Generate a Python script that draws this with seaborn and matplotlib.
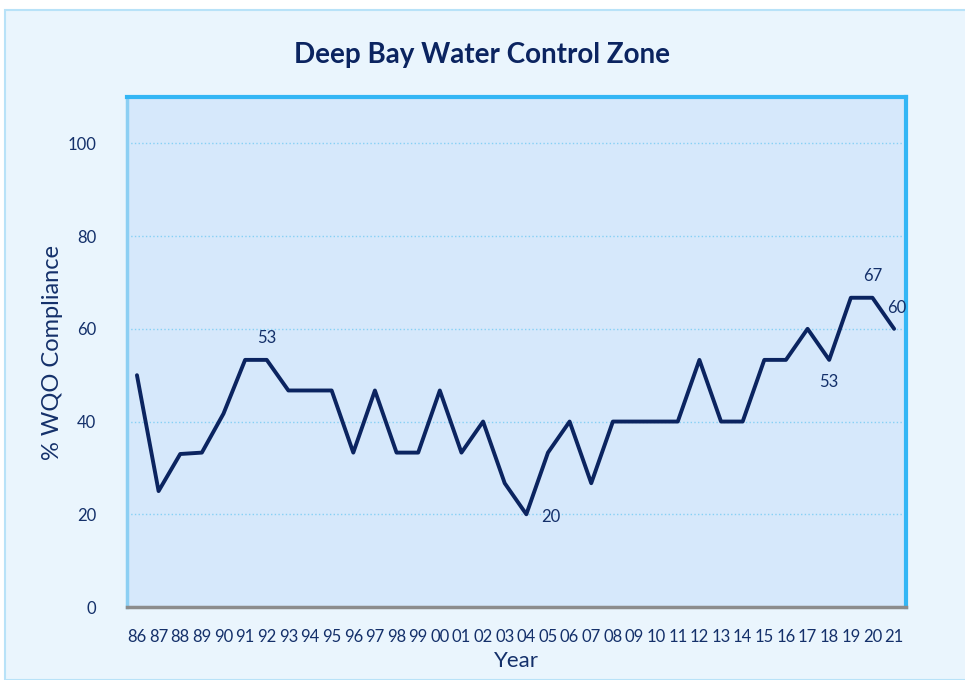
import numpy as np
import pandas as pd
import matplotlib
matplotlib.use('Agg')
import matplotlib.pyplot as plt
from matplotlib.patches import Rectangle
import seaborn as sns

# dados
anos = ['86', '87', '88', '89', '90', '91', '92', '93', '94', '95', '96', '97',
        '98', '99', '00', '01', '02', '03', '04', '05', '06', '07', '08', '09',
        '10', '11', '12', '13', '14', '15', '16', '17', '18', '19', '20', '21']
conformidade = [50, 25, 33, 33.3, 41.7, 53.3, 53.3, 46.7, 46.7, 46.7, 33.3, 46.7,
                33.3, 33.3, 46.7, 33.3, 40, 26.7, 20, 33.3, 40, 26.7, 40, 40,
                40, 40, 53.3, 40, 40, 53.3, 53.3, 60, 53.3, 66.7, 66.7, 60]
rotulos = {'92': '53', '04': '20', '18': '53', '20': '67', '21': '60'}

df = pd.DataFrame({'pos': np.arange(len(anos)), 'valor': conformidade})

sns.set_style('white')
plt.rcParams['font.family'] = ['Lato', 'DejaVu Sans']

azul_escuro = '#0B2460'
texto = '#14306A'

fig = plt.figure(figsize=(9.65, 6.8), dpi=100)
fig.patch.set_facecolor('white')
fundo = Rectangle((5 / 965, 0), 1, 1 - 10 / 680, transform=fig.transFigure,
                  facecolor='#EAF5FD', edgecolor='#B8E2F8', linewidth=1.5, zorder=-10)
fig.patches.append(fundo)

ax = fig.add_axes([127 / 965, 1 - 607 / 680, 779 / 965, 510 / 680])
ax.set_facecolor('#D6E8FB')

sns.lineplot(data=df, x='pos', y='valor', color=azul_escuro, linewidth=2.8, ax=ax)

ax.set_xlim(-0.46, 35.55)
ax.set_ylim(0, 110)
ax.set_yticks([0, 20, 40, 60, 80, 100])
ax.set_xticks(df['pos'])
ax.set_xticklabels(anos)
ax.tick_params(axis='x', direction='in', length=4, width=1, color='#8C8C8C',
               labelsize=12, labelcolor=texto, pad=16)
ax.tick_params(axis='y', length=0, labelsize=12, labelcolor=texto, pad=22)
ax.grid(axis='y', color='#86D0F5', linestyle=':', linewidth=1)
ax.grid(axis='x', visible=False)

for lado, cor, lw in [('top', '#33B6F5', 3), ('right', '#33B6F5', 3),
                      ('left', '#8CCFF3', 2.5), ('bottom', '#8C8C8C', 2.5)]:
    ax.spines[lado].set_visible(True)
    ax.spines[lado].set_color(cor)
    ax.spines[lado].set_linewidth(lw)

# rótulos de dados
desloc = {'92': (0, 10, 'center', 'bottom'), '04': (11, -2, 'left', 'center'),
          '18': (0, -10, 'center', 'top'), '20': (0, 10, 'center', 'bottom'),
          '21': (-5, 9, 'left', 'bottom')}
for ano, txt in rotulos.items():
    i = anos.index(ano)
    dx, dy, ha, va = desloc[ano]
    ax.annotate(txt, (i, conformidade[i]), xytext=(dx, dy), textcoords='offset points',
                ha=ha, va=va, fontsize=12, color=texto)

ax.set_xlabel('Year', fontsize=16, color=texto, labelpad=4)
ax.set_ylabel('% WQO Compliance', fontsize=17, color=texto, labelpad=3)
fig.text(0.5, 1 - 55 / 680, 'Deep Bay Water Control Zone', ha='center', va='center',
         fontsize=20, fontweight='bold', color=azul_escuro)

fig.savefig('out.png', dpi=100)
